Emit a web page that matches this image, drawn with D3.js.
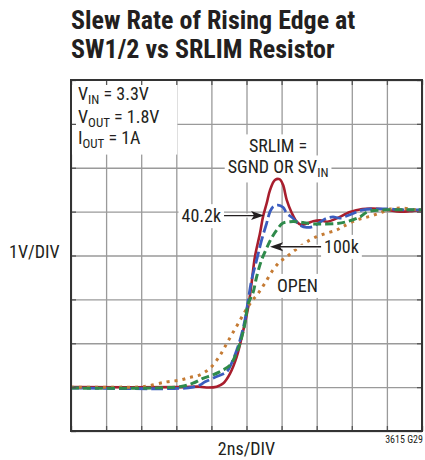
<!DOCTYPE html>
<html>
<head>
<meta charset="utf-8">
<script src="https://cdn.jsdelivr.net/npm/d3@7"></script>
<style>
  body { margin: 0; background: #fff; }
  text { font-family: "Liberation Sans Narrow", "Roboto Condensed", "Liberation Sans", sans-serif; fill: #231f20; }
</style>
</head>
<body>
<svg id="chart" width="425" height="460"></svg>
<script>
// time in ns, switch node voltage in V (1V/DIV, 2ns/DIV)
const tSgnd = [0, 6.2, 7.35, 7.82, 8.3, 8.68, 9.06, 9.44, 9.82, 10.1, 10.29, 10.48, 10.77, 10.94, 11.15, 11.34, 11.62, 11.88, 12.08, 12.29, 12.58, 12.86, 13.1, 13.5, 13.8, 14.2, 14.6, 15.1, 15.9, 16.6, 17.2, 18.0, 18.75, 19.3, 20];
const vSgnd = [0, 0, 0.01, -0.01, 0.01, 0.09, 0.31, 0.69, 1.3, 1.83, 2.37, 2.97, 3.51, 3.88, 4.19, 4.49, 4.72, 4.74, 4.61, 4.27, 3.97, 3.77, 3.7, 3.74, 3.78, 3.8, 3.77, 3.84, 3.99, 4.06, 4.07, 4.04, 4.0, 4.01, 4.04];

const t402k = [0, 6.2, 6.95, 7.35, 7.64, 8.3, 8.87, 9.23, 9.63, 9.91, 10.1, 10.29, 10.58, 10.86, 11.15, 11.34, 11.51, 11.79, 12.08, 12.3, 12.65, 13.05, 13.43, 13.79, 14.19, 14.57, 14.93, 15.33, 15.9, 16.64, 17.99, 19.13, 20];
const v402k = [-0.02, -0.03, 0, 0.05, 0.12, 0.24, 0.35, 0.62, 1.07, 1.53, 1.99, 2.44, 2.9, 3.35, 3.74, 4.0, 4.11, 4.15, 4.1, 3.96, 3.85, 3.69, 3.64, 3.66, 3.76, 3.85, 3.88, 3.85, 3.93, 4.04, 4.06, 4.04, 4.04];

const t100k = [0, 6.2, 6.95, 7.52, 8.09, 8.66, 9.06, 9.34, 9.63, 9.91, 10.1, 10.37, 10.58, 10.86, 11.15, 11.43, 11.72, 12.08, 12.48, 12.86, 13.22, 13.79, 14.36, 15.14, 15.71, 16.47, 16.92, 17.99, 19.13, 20];
const v100k = [-0.02, 0.01, 0.09, 0.2, 0.28, 0.39, 0.5, 0.69, 1.0, 1.45, 1.91, 2.15, 2.52, 2.9, 3.17, 3.4, 3.58, 3.74, 3.77, 3.77, 3.75, 3.72, 3.72, 3.73, 3.77, 3.88, 4.0, 4.04, 4.04, 4.04];

const tOpen = [0, 2.8, 4.1, 5.45, 6.21, 6.78, 7.35, 7.92, 8.39, 8.77, 9.15, 9.53, 9.91, 10.29, 10.67, 11.05, 11.51, 11.91, 12.29, 12.65, 13.05, 13.43, 14.0, 14.57, 15.14, 15.5, 16.28, 16.92, 17.61, 18.18, 18.92, 19.7, 20];
const vOpen = [0, 0, 0.01, 0.12, 0.16, 0.22, 0.28, 0.43, 0.66, 0.92, 1.19, 1.45, 1.72, 1.95, 2.14, 2.37, 2.67, 2.86, 2.97, 3.09, 3.2, 3.31, 3.43, 3.51, 3.58, 3.66, 3.81, 3.88, 3.97, 4.06, 4.08, 4.04, 4.04];

const timeTicks = [0, 2, 4, 6, 8, 10, 12, 14, 16, 18, 20];
const voltTicks = [-1, 0, 1, 2, 3, 4, 5, 6, 7];

const titleLines = ['Slew Rate of Rising Edge at', 'SW1/2 vs SRLIM Resistor'];

const margin = { top: 80, right: 3, bottom: 29, left: 71 };
const width = 425 - margin.left - margin.right;
const height = 460 - margin.top - margin.bottom;

const svg = d3.select('#chart');

const x = d3.scaleLinear().domain([0, 20]).range([0, width]);
const y = d3.scaleLinear().domain([-1, 7]).range([height, 0]);

svg.selectAll('.title')
  .data(titleLines)
  .enter()
  .append('text')
  .attr('class', 'title')
  .attr('x', margin.left)
  .attr('y', (d, i) => 29 + i * 29)
  .style('font-size', '26px')
  .style('font-weight', 'bold')
  .text(d => d);

const g = svg.append('g')
  .attr('transform', `translate(${margin.left}, ${margin.top})`);

// grid
g.append('g')
  .attr('class', 'grid')
  .attr('transform', `translate(0, ${height})`)
  .call(d3.axisBottom(x).tickValues(timeTicks).tickSize(-height).tickFormat(''));
g.append('g')
  .attr('class', 'grid')
  .call(d3.axisLeft(y).tickValues(voltTicks).tickSize(-width).tickFormat(''));
g.selectAll('.grid .domain').remove();
g.selectAll('.grid line').attr('stroke', '#9a9a9a').attr('stroke-width', 1.3);

// label boxes that hide the grid
const boxLayer = g.append('g');
const textLayer = g.append('g');

const addLabel = (parts, tx, vy, anchor, size) => {
  const t = textLayer.append('text')
    .attr('x', x(tx))
    .attr('y', y(vy))
    .attr('text-anchor', anchor)
    .style('font-size', size + 'px');
  let shifted = false;
  parts.forEach(p => {
    const span = t.append('tspan').text(p.text);
    if (p.sub) {
      span.attr('dy', 4).style('font-size', (size * 0.72) + 'px');
      shifted = true;
    } else if (shifted) {
      span.attr('dy', -4);
      shifted = false;
    }
  });
  return t;
};

const boxFor = (node, pad) => {
  const b = node.getBBox();
  boxLayer.append('rect')
    .attr('x', b.x - pad)
    .attr('y', b.y - pad + 2)
    .attr('width', b.width + pad * 2)
    .attr('height', b.height + pad * 2 - 3)
    .attr('fill', '#fff');
};

// conditions box in upper left
boxLayer.append('rect')
  .attr('x', 1)
  .attr('y', 1)
  .attr('width', x(6.0))
  .attr('height', y(5.3) - 1)
  .attr('fill', '#fff');
addLabel([{ text: 'V' }, { text: 'IN', sub: true }, { text: ' = 3.3V' }], 0.4, 6.55, 'start', 18);
addLabel([{ text: 'V' }, { text: 'OUT', sub: true }, { text: ' = 1.8V' }], 0.4, 6.03, 'start', 18);
addLabel([{ text: 'I' }, { text: 'OUT', sub: true }, { text: ' = 1A' }], 0.4, 5.55, 'start', 18);

const srlim1 = addLabel([{ text: 'SRLIM =' }], 11.8, 5.35, 'middle', 18);
const srlim2 = addLabel([{ text: 'SGND OR SV' }, { text: 'IN', sub: true }], 11.8, 4.87, 'middle', 18);
const lab402 = addLabel([{ text: '40.2k' }], 8.55, 3.76, 'end', 18);
const lab100 = addLabel([{ text: '100k' }], 14.42, 3.06, 'start', 18);
const labOpen = addLabel([{ text: 'OPEN' }], 11.74, 2.17, 'start', 18);
[srlim1, srlim2, lab402, lab100, labOpen].forEach(l => boxFor(l.node(), 3));

// curves
const line = d3.line()
  .x(d => x(d[0]))
  .y(d => y(d[1]))
  .curve(d3.curveCatmullRom.alpha(0.5));

const series = [
  { t: tSgnd, v: vSgnd, color: '#a81e2d', dash: null, w: 2.6 },
  { t: t402k, v: v402k, color: '#3a5cbf', dash: '12,4', w: 2.8 },
  { t: tOpen, v: vOpen, color: '#c57b34', dash: '3,5', w: 3 },
  { t: t100k, v: v100k, color: '#2f8a4b', dash: '8,4', w: 3 }
];

g.append('g')
  .selectAll('path')
  .data(series)
  .enter()
  .append('path')
  .attr('d', s => line(s.t.map((tt, i) => [tt, s.v[i]])))
  .attr('fill', 'none')
  .attr('stroke', s => s.color)
  .attr('stroke-width', s => s.w)
  .attr('stroke-dasharray', s => s.dash);

// arrows
const arrow = (t0, t1, v) => {
  const x0 = x(t0), x1 = x(t1), yy = y(v);
  const dir = Math.sign(x1 - x0);
  g.append('line')
    .attr('x1', x0).attr('y1', yy)
    .attr('x2', x1 - dir * 8).attr('y2', yy)
    .attr('stroke', '#fff').attr('stroke-width', 4);
  g.append('line')
    .attr('x1', x0).attr('y1', yy)
    .attr('x2', x1 - dir * 8).attr('y2', yy)
    .attr('stroke', '#231f20').attr('stroke-width', 1.3);
  g.append('path')
    .attr('d', `M${x1},${yy} L${x1 - dir * 13},${yy - 4.5} L${x1 - dir * 10},${yy} L${x1 - dir * 13},${yy + 4.5} Z`)
    .attr('fill', '#231f20');
};
arrow(8.72, 11.0, 3.91);
arrow(14.25, 11.34, 3.2);

// frame ticks
const tickAxes = [
  g.append('g').attr('transform', `translate(0, ${height})`).call(d3.axisBottom(x).tickValues(timeTicks).tickSize(-5).tickFormat('')),
  g.append('g').call(d3.axisTop(x).tickValues(timeTicks).tickSize(-5).tickFormat('')),
  g.append('g').call(d3.axisLeft(y).tickValues(voltTicks).tickSize(-5).tickFormat('')),
  g.append('g').attr('transform', `translate(${width}, 0)`).call(d3.axisRight(y).tickValues(voltTicks).tickSize(-5).tickFormat(''))
];
tickAxes.forEach(a => {
  a.select('.domain').remove();
  a.selectAll('line').attr('stroke', '#555').attr('stroke-width', 1.3);
});

g.append('rect')
  .attr('width', width)
  .attr('height', height)
  .attr('fill', 'none')
  .attr('stroke', '#333')
  .attr('stroke-width', 2);

// axis captions
svg.append('text')
  .attr('x', 9)
  .attr('y', 258)
  .style('font-size', '18px')
  .text('1V/DIV');
svg.append('text')
  .attr('x', margin.left + width / 2)
  .attr('y', 455)
  .attr('text-anchor', 'middle')
  .style('font-size', '18px')
  .text('2ns/DIV');
svg.append('text')
  .attr('x', 423)
  .attr('y', 443)
  .attr('text-anchor', 'end')
  .style('font-size', '10px')
  .text('3615 G29');
</script>
</body>
</html>
